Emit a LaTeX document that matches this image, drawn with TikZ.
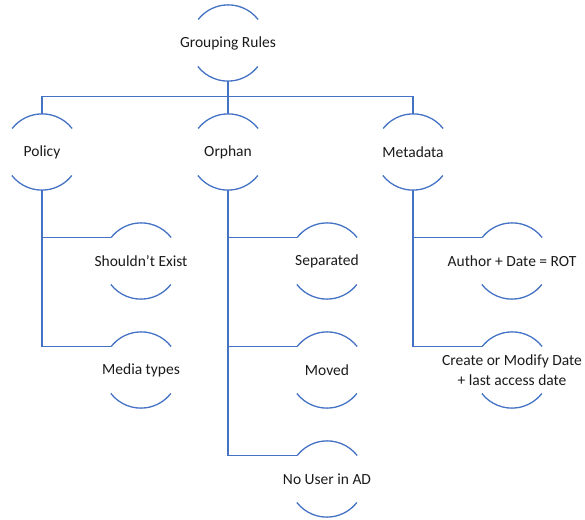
\documentclass[tikz,border=0pt]{standalone}
\usepackage{fontspec}
\setmainfont{Carlito}
\definecolor{linkblue}{HTML}{4472C4}
\definecolor{labeltext}{HTML}{1A1A1A}
\tikzset{
  ring/.style={circle, minimum size=76pt, inner sep=0pt, draw=none},
  lbl/.style={font=\fontsize{15.5}{20}\selectfont, text=labeltext, align=center},
  wire/.style={draw=linkblue, line width=1.3pt},
  rim/.style={draw=linkblue, line width=1.3pt},
}
\begin{document}
\begin{tikzpicture}[x=1pt,y=1pt]
  \useasboundingbox (0,0) rectangle (585,519);
  % hierarchy nodes (centres)
  \node[ring] (root)  at (228,476) {};
  \node[ring] (pol)   at (42,367)  {};
  \node[ring] (orph)  at (228,367) {};
  \node[ring] (meta)  at (413,367) {};
  \node[ring] (pol1)  at (141,258) {};
  \node[ring] (pol2)  at (141,149) {};
  \node[ring] (orph1) at (327,258) {};
  \node[ring] (orph2) at (327,149) {};
  \node[ring] (orph3) at (327,40)  {};
  \node[ring] (meta1) at (512,258) {};
  \node[ring] (meta2) at (512,149) {};
  % labels
  \node[lbl] (troot)  at (root)  {Grouping Rules};
  \node[lbl] (tpol)   at (pol)   {Policy};
  \node[lbl] (torph)  at (orph)  {Orphan};
  \node[lbl] (tmeta)  at (meta)  {Metadata};
  \node[lbl] (tpol1)  at (pol1)  {Shouldn’t Exist};
  \node[lbl] (tpol2)  at (pol2)  {Media types};
  \node[lbl] (torph1) at (orph1) {Separated};
  \node[lbl] (torph2) at (orph2) {Moved};
  \node[lbl] (torph3) at (orph3) {No User in AD};
  \node[lbl] (tmeta1) at (meta1) {Author + Date = ROT};
  \node[lbl] (tmeta2) at (meta2) {Create or Modify Date\\+ last access date};
  % upper and lower arcs of each ring
  \foreach \n in {root,pol,orph,meta,pol1,pol2,orph1,orph2,orph3,meta1,meta2}{
    \draw[rim] (\n.38) arc[start angle=38, end angle=142, radius=38pt];
    \draw[rim] (\n.218) arc[start angle=218, end angle=322, radius=38pt];
  }
  % connectors
  \coordinate (bus) at ([yshift=-15pt]root.south);
  \draw[wire] (root.south) -- (orph.north);
  \draw[wire] (bus) -| (pol.north);
  \draw[wire] (bus) -| (meta.north);
  \draw[wire] (pol.south) |- (pol1.142);
  \draw[wire] (pol.south) |- (pol2.142);
  \draw[wire] (orph.south) |- (orph1.142);
  \draw[wire] (orph.south) |- (orph2.142);
  \draw[wire] (orph.south) |- (orph3.142);
  \draw[wire] (meta.south) |- (meta1.142);
  \draw[wire] (meta.south) |- (meta2.142);
\end{tikzpicture}
\end{document}
